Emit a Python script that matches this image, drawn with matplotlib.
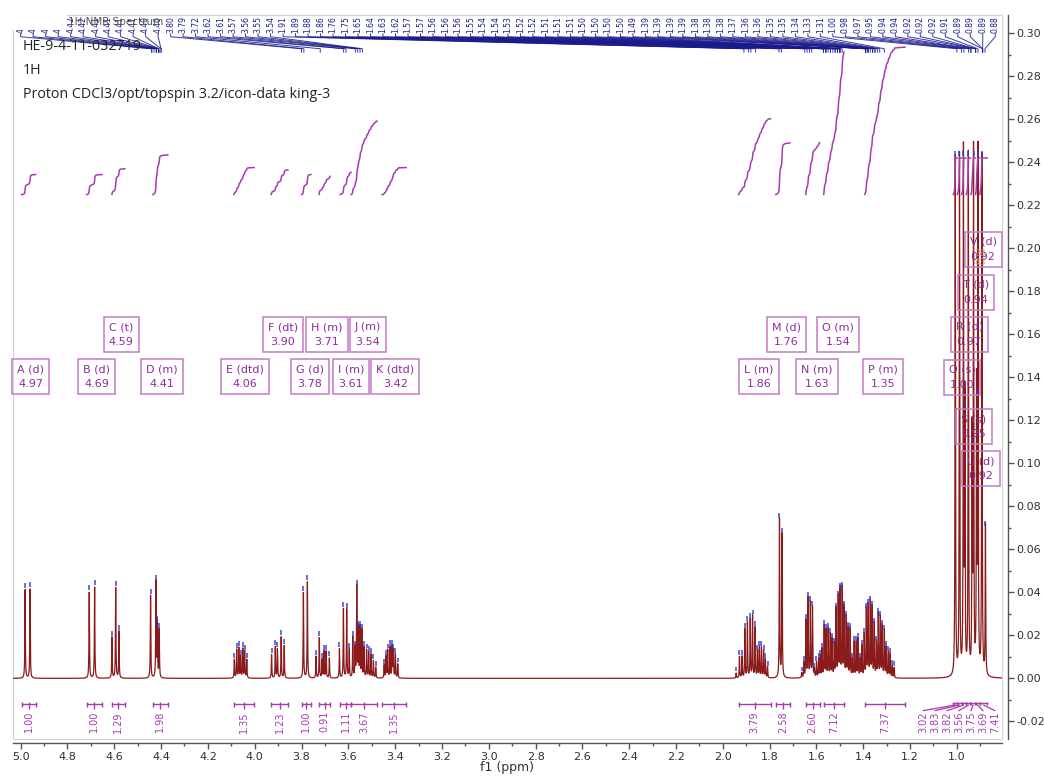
import numpy as np
import matplotlib
matplotlib.use("Agg")
import matplotlib.pyplot as plt
from matplotlib.patches import Rectangle
from matplotlib.transforms import Bbox

# ---- peak list (ppm, intensity) ----
peak_ppm = [
    4.981, 4.960,                                     # A
    4.707, 4.684,                                     # B
    4.610, 4.594, 4.580,                              # C
    4.445, 4.422, 4.416, 4.408,                       # D
    4.087, 4.077, 4.068, 4.060, 4.051, 4.043, 4.034,  # E
    3.928, 3.912, 3.903, 3.887, 3.874,                # F
    3.792, 3.775,                                     # G
    3.738, 3.724, 3.712, 3.704, 3.695, 3.681,         # H
    3.638, 3.621, 3.607, 3.596,                       # I
    3.581, 3.571, 3.564, 3.557, 3.550, 3.542, 3.533, 3.522, 3.513, 3.503, 3.493, 3.483,  # J
    3.447, 3.439, 3.432, 3.422, 3.413, 3.408, 3.399, 3.389,  # K
    1.943, 1.929, 1.918, 1.906, 1.895, 1.883, 1.873, 1.862, 1.852, 1.844, 1.835, 1.826, 1.818, 1.809,  # L
    1.758, 1.747,                                     # M
    1.663, 1.654, 1.645, 1.636, 1.626, 1.617, 1.609, 1.600, 1.591,  # N
    1.584, 1.576, 1.567, 1.559, 1.550, 1.541, 1.533, 1.524, 1.516, 1.507, 1.499,
    1.490, 1.482, 1.473, 1.465, 1.456, 1.447, 1.439, 1.430, 1.422, 1.413,  # O
    1.406, 1.396, 1.387, 1.379, 1.370, 1.362, 1.353, 1.344, 1.336, 1.327, 1.319,
    1.310, 1.302, 1.293, 1.285, 1.276, 1.268,         # P
    1.007, 0.989, 0.972, 0.966, 0.951, 0.935, 0.929, 0.916, 0.910, 0.893, 0.878,  # Q-V
]
peak_int = [
    0.0412, 0.0415,
    0.0400, 0.0424,
    0.0190, 0.0420, 0.0218,
    0.0385, 0.0447, 0.0257, 0.0224,
    0.0086, 0.0132, 0.0140, 0.0100, 0.0136, 0.0124, 0.0086,
    0.0109, 0.0145, 0.0135, 0.0191, 0.0151,
    0.0397, 0.0447,
    0.0101, 0.0187, 0.0086, 0.0124, 0.0124, 0.0093,
    0.0135, 0.0322, 0.0319, 0.0132,
    0.0190, 0.0140, 0.0424, 0.0233, 0.0233, 0.0220, 0.0140, 0.0130, 0.0120, 0.0110, 0.0080, 0.0050,
    0.0060, 0.0100, 0.0130, 0.0145, 0.0145, 0.0130, 0.0110, 0.0065,
    0.0023, 0.0100, 0.0100, 0.0226, 0.0257, 0.0272, 0.0288, 0.0233, 0.0125, 0.0140, 0.0140, 0.0125, 0.0086, 0.0050,
    0.0738, 0.0668,
    0.0023, 0.0070, 0.0265, 0.0369, 0.0350, 0.0327, 0.0040, 0.0070, 0.0086,
    0.0100, 0.0132, 0.0240, 0.0220, 0.0226, 0.0200, 0.0179, 0.0156, 0.0320, 0.0373, 0.0410,
    0.0415, 0.0327, 0.0280, 0.0230, 0.0226, 0.0086, 0.0163, 0.0163, 0.0179, 0.0086,
    0.0148, 0.0200, 0.0320, 0.0335, 0.0353, 0.0327, 0.0249, 0.0163, 0.0296, 0.0280, 0.0240,
    0.0218, 0.0140, 0.0117, 0.0110, 0.0054, 0.0047,
    0.2420, 0.2420, 0.2420, 0.1260, 0.2420, 0.1090, 0.2420, 0.1310, 0.2420, 0.2420, 0.0700,
]

# ---- multiplet report ----
mult_letter = list("ABCDEFGHIJKLMNOPQRSTUV")
mult_type = ["d", "d", "t", "m", "dtd", "dt", "d", "m", "m", "m", "dtd",
             "m", "d", "m", "m", "m", "s", "d", "s", "d", "d", "d"]
mult_shift = [4.97, 4.69, 4.59, 4.41, 4.06, 3.90, 3.78, 3.71, 3.61, 3.54, 3.42,
              1.86, 1.76, 1.63, 1.54, 1.35, 1.00, 0.97, 0.95, 0.94, 0.92, 0.92]
# box anchor (ppm, y) - layout only
mult_box_x = [4.956, 4.674, 4.571, 4.396, 4.041, 3.879, 3.764, 3.691, 3.589, 3.516, 3.400,
              1.845, 1.730, 1.597, 1.508, 1.316, 0.978, 0.948, 0.927, 0.918, 0.897, 0.888]
mult_box_y = [0.1404, 0.1404, 0.1599, 0.1404, 0.1404, 0.1599, 0.1404, 0.1599, 0.1404, 0.1599, 0.1404,
              0.1404, 0.1599, 0.1404, 0.1599, 0.1404, 0.1400, 0.1600, 0.1170, 0.1795, 0.0976, 0.1995]

# ---- integrals (from ppm, to ppm, value) ----
int_lo = [4.936, 4.653, 4.555, 4.371, 4.003, 3.858, 3.760, 3.678, 3.588, 3.477, 3.353,
          1.796, 1.714, 1.586, 1.483, 1.222]
int_hi = [4.996, 4.718, 4.610, 4.435, 4.089, 3.930, 3.800, 3.725, 3.635, 3.588, 3.456,
          1.933, 1.774, 1.646, 1.569, 1.394]
int_val = [1.00, 1.00, 1.29, 1.98, 1.35, 1.23, 1.00, 0.91, 1.11, 3.67, 1.35,
           3.79, 2.58, 2.60, 7.12, 7.37]
# crowded methyl region, labels moved aside
int2_lo = [0.998, 0.980, 0.962, 0.942, 0.921, 0.902, 0.870]
int2_hi = [1.015, 0.998, 0.980, 0.960, 0.940, 0.920, 0.902]
int2_val = [3.02, 3.83, 3.82, 3.56, 3.75, 3.69, 7.41]

# ---- peak picking labels along the top ----
top_shift = [4.44, 4.44, 4.43, 4.42, 4.42, 4.42, 4.41, 4.41, 4.41, 4.41, 4.40, 4.40,
             3.80, 3.79, 3.72, 3.62, 3.61, 3.57, 3.56, 3.55, 3.54,
             1.91, 1.89, 1.88, 1.86, 1.76, 1.75, 1.65, 1.64, 1.63, 1.62,
             1.57, 1.57, 1.56, 1.56, 1.56, 1.55, 1.54, 1.54, 1.53, 1.52, 1.52,
             1.51, 1.51, 1.51, 1.50, 1.50, 1.50, 1.50, 1.49,
             1.39, 1.39, 1.39, 1.39, 1.38, 1.38, 1.38, 1.37, 1.36, 1.36, 1.35, 1.35,
             1.34, 1.33, 1.31,
             1.00, 0.98, 0.97, 0.95, 0.94, 0.94, 0.92, 0.92, 0.92, 0.91, 0.89, 0.89, 0.89, 0.88]
n_hidden = 12  # first labels are cut by the title area

header_lines = ["HE-9-4-11-032719", "1H", "Proton CDCl3/opt/topspin 3.2/icon-data king-3"]

SPEC = "#8b1a1a"
PURPLE = "#a63bb0"
BOXC = "#c27ac8"
NAVY = "#1a1a8c"
W, H = 1044, 782

fig = plt.figure(figsize=(W / 100, H / 100), dpi=100)
ax = fig.add_axes([12.7 / W, 1 - 739 / H, (1002.3 - 12.7) / W, (739 - 15) / H])
ax.set_xlim(5.034, 0.806)
ax.set_ylim(-0.0282, 0.3085)

# spectrum built as a sum of narrow lorentzians from the peak list
x = np.linspace(5.04, 0.80, 42000)
gam = 0.0012
y = np.zeros_like(x)
for p, h in zip(peak_ppm, peak_int):
    y += h * gam**2 / ((x - p) ** 2 + gam**2)
ax.plot(x, y, color=SPEC, lw=0.9, zorder=3)

# blue peak-pick markers
pk = np.array(peak_ppm)
ph = np.array(peak_int)
ax.vlines(pk, ph + 0.0009, ph + 0.0032, color="#3b3bd0", lw=1.3, alpha=0.8, zorder=4)

# integral curves above the peaks
base_int = 0.225
scale_int = 0.0093
for lo, hi, v in zip(int_lo + int2_lo, int_hi + int2_hi, int_val + int2_val):
    m = (x >= lo) & (x <= hi)
    c = np.cumsum(y[m])
    c = base_int + c / c[-1] * v * scale_int
    if hi < 1.05:
        c = np.minimum(c, 0.242)
    ax.plot(x[m], c, color=PURPLE, lw=1.1, zorder=3)

# integral brackets below baseline
yb = -0.0120
for lo, hi, v in zip(int_lo, int_hi, int_val):
    mid = (lo + hi) / 2
    ax.plot([hi, lo], [yb, yb], color=PURPLE, lw=1.0)
    ax.vlines([lo, hi], yb - 0.0012, yb + 0.0012, color=PURPLE, lw=1.0)
    ax.vlines(mid, yb - 0.0022, yb + 0.0012, color=PURPLE, lw=1.0)
    ax.text(mid, yb - 0.0032, f"{v:.2f}", rotation=90, ha="center", va="top",
            fontsize=7, color=PURPLE)

lab2_x = np.linspace(1.144, 0.838, len(int2_val))
for lo, hi, v, lx in zip(int2_lo, int2_hi, int2_val, lab2_x):
    mid = (lo + hi) / 2
    ax.plot([hi, lo], [yb + 0.0004, yb + 0.0004], color=PURPLE, lw=1.0)
    ax.vlines([lo, hi], yb - 0.0004, yb + 0.0012, color=PURPLE, lw=1.0)
    ax.plot([mid, lx], [yb - 0.0004, yb - 0.0030], color=PURPLE, lw=0.9)
    ax.text(lx, yb - 0.0034, f"{v:.2f}", rotation=90, ha="center", va="top",
            fontsize=7, color=PURPLE)

# multiplet boxes
for L, t, s, bx, by in zip(mult_letter, mult_type, mult_shift, mult_box_x, mult_box_y):
    ax.text(bx, by, f"{L} ({t})\n{s:.2f}", ha="center", va="center", fontsize=8,
            color="#8e2c9e", linespacing=1.6, zorder=6,
            bbox=dict(boxstyle="square,pad=0.45", fc="none", ec=BOXC, lw=1.1))
ax.text(0.902, 0.1955, "28\n43", ha="center", va="center", fontsize=6.5,
        color="#c98a5a", linespacing=1.1, zorder=7)

# peak labels along the top with leader lines
lab_x = np.linspace(5.0, 0.836, len(top_shift))
hide_box = Bbox.from_extents(0, 0, W, H - 30)
for i, (lx, s) in enumerate(zip(lab_x, top_shift)):
    ax.plot([lx, lx, s, s], [0.2998, 0.2984, 0.2928, 0.2912], color=NAVY, lw=0.7,
            alpha=0.85, zorder=5)
    t = ax.text(lx, 0.3000, f"{s:.2f}", rotation=90, ha="center", va="bottom",
                fontsize=5.5, color=NAVY, zorder=5)
    if i < n_hidden:
        t.set_clip_box(hide_box)

# frame and axes
for sp in ["left", "top", "bottom", "right"]:
    ax.spines[sp].set_color("#d4d4d4")
    ax.spines[sp].set_linewidth(0.8)
ax.add_patch(Rectangle((0, 0), 1, 1, transform=ax.transAxes, fill=False,
                       ec="#d4d4d4", lw=0.8, clip_on=False, zorder=0))
ax.spines["bottom"].set_position(("outward", 3))
ax.spines["right"].set_position(("outward", 4))
ax.spines["bottom"].set_color("#555555")
ax.spines["right"].set_color("#555555")
ax.spines["bottom"].set_linewidth(1.0)
ax.spines["right"].set_linewidth(1.0)

ax.yaxis.tick_right()
ax.set_xticks(np.arange(1.0, 5.01, 0.2))
ax.set_xticklabels([f"{v:.1f}" for v in np.arange(1.0, 5.01, 0.2)])
ax.set_xticks(np.arange(0.9, 5.01, 0.1), minor=True)
yt = np.arange(-0.02, 0.301, 0.02)
ax.set_yticks(yt)
ax.set_yticklabels([f"{v:.2f}" for v in yt])
ax.set_yticks(np.arange(-0.02, 0.301, 0.01), minor=True)
ax.tick_params(axis="both", which="major", labelsize=8, labelcolor="#2e2e2e",
               color="#555555", length=4, width=1, pad=2)
ax.tick_params(axis="both", which="minor", color="#555555", length=2.5, width=1)
ax.set_xlabel("f1 (ppm)", fontsize=9, color="#333333", labelpad=0)

# cover top-left corner like the original title block
fig.patches.append(Rectangle((0, 1 - 30 / H), 67 / W, 30 / H, transform=fig.transFigure,
                             fc="white", ec="none", zorder=5))
fig.text(68 / W, 1 - 22 / H, "1H NMR Spectrum", fontsize=7.5, color="#555555",
         va="center", ha="left", zorder=6)
for k, line in enumerate(header_lines):
    fig.text(23 / W, 1 - (47 + 23.5 * k) / H, line, fontsize=10.3, family="Open Sans",
             color="#222222", va="center", ha="left", zorder=6)

fig.savefig("out.png", dpi=100)
